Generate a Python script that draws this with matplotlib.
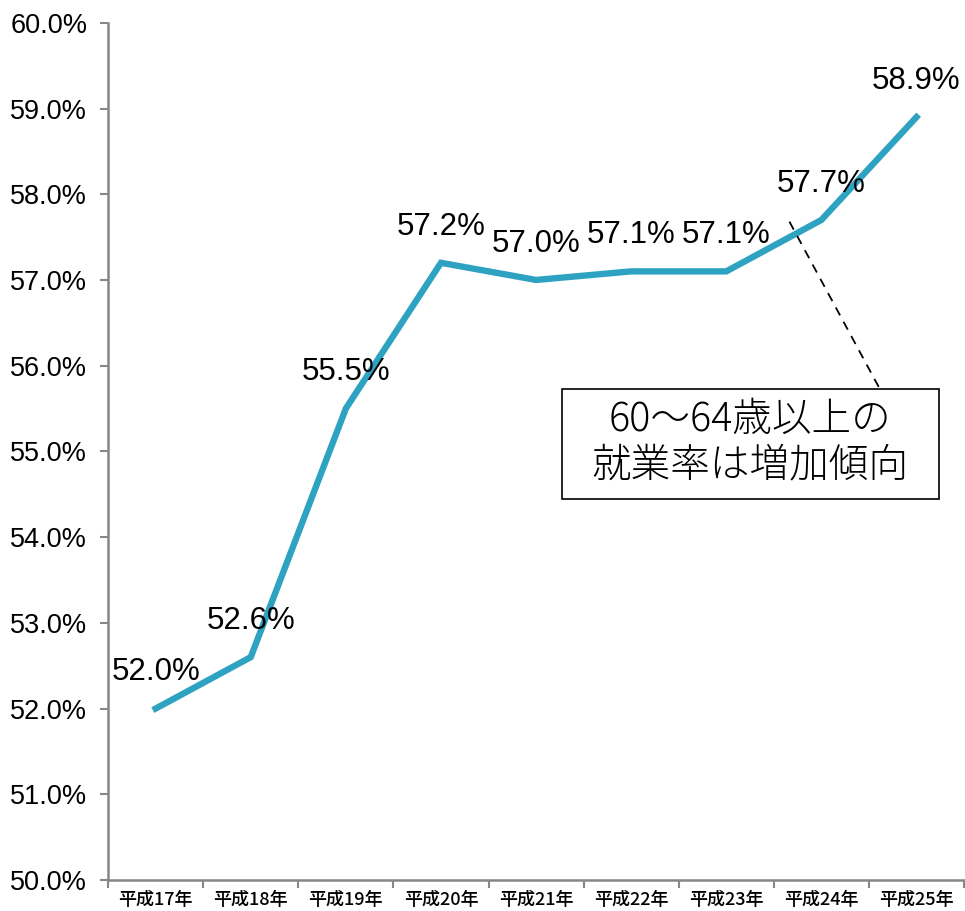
import numpy as np
import matplotlib.pyplot as plt
from matplotlib.patches import Rectangle
from matplotlib.ticker import FixedLocator, FuncFormatter

# 60～64歳 就業率の推移
years = ['平成17年', '平成18年', '平成19年', '平成20年', '平成21年',
         '平成22年', '平成23年', '平成24年', '平成25年']
rate = [52.0, 52.6, 55.5, 57.2, 57.0, 57.1, 57.1, 57.7, 58.9]
note = '60～64歳以上の\n就業率は増加傾向'

jp = ['Noto Sans CJK JP', 'DejaVu Sans']
num = ['Liberation Sans', 'DejaVu Sans']
axis_gray = '#878787'

fig = plt.figure(figsize=(9.65, 9.11), dpi=100)
ax = fig.add_axes([0.112, 0.034, 0.887, 0.941])

x = np.arange(len(years))
ax.plot(x, rate, color='#2EA3C1', lw=4.6, solid_joinstyle='miter')

for xi, v in zip(x, rate):
    ax.annotate(f'{v:.1f}%', (xi, v), xytext=(0, 26), textcoords='offset points',
                ha='center', va='center', fontsize=22.5, family=num)

ax.set_xlim(-0.5, len(years) - 0.5)
ax.set_ylim(50, 60)
ax.set_yticks(np.arange(50, 60.1, 1))
ax.yaxis.set_major_formatter(FuncFormatter(lambda v, p: f'{v:.1f}%'))
for lab in ax.get_yticklabels():
    lab.set_family(num)
ax.tick_params(axis='y', labelsize=19.5, length=6, width=1.5, color=axis_gray, pad=9)

ax.set_xticks(x)
ax.set_xticklabels(years, family=jp, fontsize=13, fontweight='medium')
ax.xaxis.set_minor_locator(FixedLocator(np.arange(-0.5, len(years), 1)))
ax.tick_params(axis='x', which='major', length=0, pad=8)
ax.tick_params(axis='x', which='minor', length=6, width=1.5, color=axis_gray, direction='out')

for s in ['top', 'right']:
    ax.spines[s].set_visible(False)
for s in ['left', 'bottom']:
    ax.spines[s].set_color(axis_gray)
    ax.spines[s].set_linewidth(1.8)

# 吹き出し
ax.plot([0.796, 0.901], [0.768, 0.574], transform=ax.transAxes, color='black',
        lw=1.3, ls=(0, (5, 4)), clip_on=False)
ax.add_patch(Rectangle((0.530, 0.445), 0.441, 0.128, transform=ax.transAxes,
                       facecolor='white', edgecolor='black', lw=1.2, zorder=3))
ax.text(0.750, 0.510, note, transform=ax.transAxes, ha='center', va='center',
        fontsize=28.5, family=jp, fontweight='light', linespacing=1.1, zorder=4)

fig.savefig('out.png', dpi=100)
